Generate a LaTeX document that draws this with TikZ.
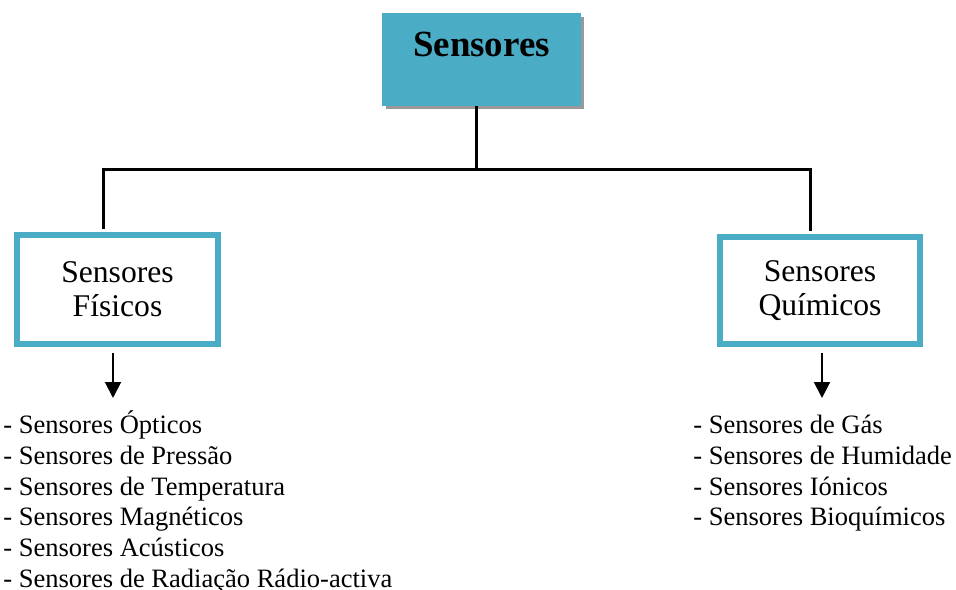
\documentclass[tikz,border=0pt]{standalone}
\usepackage{fontspec}
\setmainfont{Liberation Serif}
\usetikzlibrary{positioning, arrows.meta, shadows}
\definecolor{SensBlue}{RGB}{75,172,198}

\begin{document}
\begin{tikzpicture}[x=0.02cm, y=-0.02cm,
    topbox/.style={rectangle, fill=SensBlue, minimum width=3.98cm, minimum height=1.86cm,
                   drop shadow={shadow xshift=0.07cm, shadow yshift=-0.07cm, fill=black!40, opacity=1}},
    box/.style={rectangle, draw=SensBlue, line width=0.12cm, fill=white,
                font=\fontsize{18}{19.5}\selectfont, align=center},
    line/.style={line width=0.06cm},
    arr/.style={-{Triangle[length=0.32cm, width=0.32cm]}, line width=0.04cm},
    item/.style={font=\fontsize{15.1}{17.5}\selectfont, anchor=base west, inner sep=0pt}
  ]
  \useasboundingbox (0,0) rectangle (956,590);

  % top box
  \node[topbox] (sensores) at (481.5,59.5) {};
  \node[font=\fontsize{21}{24}\selectfont\bfseries] (titulo) at (481.5,44) {Sensores};

  % branches
  \coordinate (hub)  at (476,170);
  \coordinate (hubl) at (103,170);
  \coordinate (hubr) at (810,170);
  \draw[line] (sensores.south -| hub) -- (hub);

  \node[box, minimum width=4.02cm, minimum height=2.18cm] (fisicos)  at (117.5,289.5) {Sensores\\Físicos};
  \node[box, minimum width=4cm, minimum height=2.14cm]    (quimicos) at (820,290.5)   {Sensores\\Químicos};

  \draw[line, shorten <=0.06cm, shorten >=0.06cm]
    (hubl |- fisicos.north) -- (hubl) -- (hubr) -- (hubr |- quimicos.north);

  % arrows to the lists
  \coordinate (fisarr) at (113,398);
  \coordinate (quiarr) at (822,398);
  \draw[arr, shorten <=0.12cm] (fisicos.south -| fisarr) -- (fisarr);
  \draw[arr, shorten <=0.12cm] (quimicos.south -| quiarr) -- (quiarr);

  % lists
  \foreach \t [count=\i] in {Sensores Ópticos, Sensores de Pressão, Sensores de Temperatura,
      Sensores Magnéticos, Sensores Acústicos, Sensores de Radiação Rádio-activa}
    \node[item] (fis\i) at (3,434+30.6*\i-30.6) {- \t};
  \foreach \t [count=\i] in {Sensores de Gás, Sensores de Humidade, Sensores Iónicos,
      Sensores Bioquímicos}
    \node[item] (qui\i) at (693,434+30.6*\i-30.6) {- \t};
\end{tikzpicture}
\end{document}
